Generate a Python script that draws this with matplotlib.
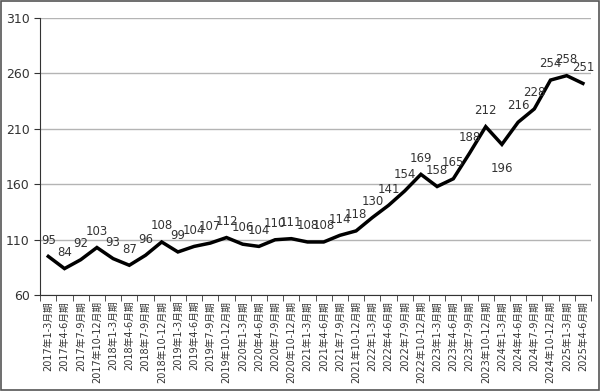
import matplotlib
matplotlib.use("Agg")
import matplotlib.pyplot as plt
from matplotlib.patches import Rectangle
import numpy as np

plt.rcParams['font.family'] = ['DejaVu Sans', 'Noto Sans CJK JP']

# 四半期ラベル
quarters = ['1-3月期', '4-6月期', '7-9月期', '10-12月期']
labels = [f'{y}年{q}' for y in range(2017, 2026) for q in quarters][:34]

values = [95, 84, 92, 103, 93, 87, 96, 108, 99, 104, 107, 112, 106, 104,
          110, 111, 108, 108, 114, 118, 130, 141, 154, 169, 158, 165,
          188, 212, 196, 216, 228, 254, 258, 251]

yticks = [60, 110, 160, 210, 260, 310]

fig = plt.figure(figsize=(6.0, 3.91), dpi=100)
ax = fig.add_axes([0.067, 0.245, 0.918, 0.709])

x = np.arange(len(values))
ax.plot(x, values, color='black', lw=2.5, solid_joinstyle='miter', zorder=3)

for i, v in enumerate(values):
    dy = -13 if v == 196 else 7
    va = 'top' if v == 196 else 'bottom'
    ax.annotate(str(v), (i, v), xytext=(0, dy), textcoords='offset points',
                ha='center', va=va, fontsize=8.5, color='#333333')

ax.set_ylim(60, 310)
ax.set_yticks(yticks)
ax.set_xlim(-0.5, len(values) - 0.5)
ax.set_xticks(x)
ax.set_xticklabels(labels, rotation=90, fontsize=7, color='#333333')
ax.set_xticks(np.arange(-0.5, len(values), 1.0), minor=True)
ax.tick_params(axis='x', which='major', length=0, pad=4)
ax.tick_params(axis='x', which='minor', length=4, color='#333333', direction='out')
ax.tick_params(axis='y', labelsize=9, labelcolor='#333333', length=4, color='#333333')

ax.grid(axis='y', color='#b4b4b4', lw=1)
ax.set_axisbelow(True)
for s in ('top', 'right'):
    ax.spines[s].set_visible(False)
ax.spines['left'].set_color('#333333')
ax.spines['bottom'].set_color('#333333')

fig.patches.append(Rectangle((0.001, 0.002), 0.997, 0.996, transform=fig.transFigure,
                             fill=False, edgecolor='#555555', lw=1.2))

fig.savefig('out.png', dpi=100)
